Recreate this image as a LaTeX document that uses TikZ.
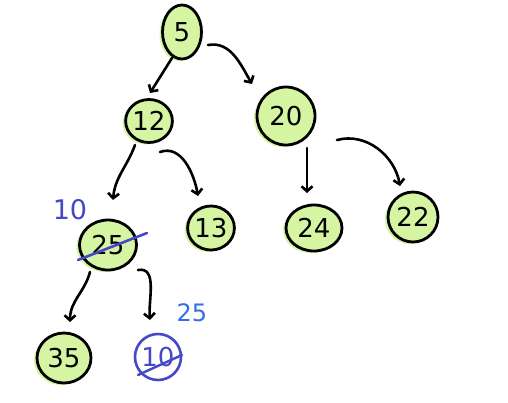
\documentclass[tikz,border=0pt]{standalone}
\usepackage{fontspec}
\setmainfont{DejaVu Sans}
\usetikzlibrary{arrows.meta,shapes.geometric,calc}
\definecolor{leaf}{HTML}{D6F5A3}
\definecolor{pen}{HTML}{4548C8}
\definecolor{pen2}{HTML}{2F6FE8}
\begin{document}
\begin{tikzpicture}[x=1pt,y=-1pt,
  nd/.style={ellipse,draw=black,line width=2.8pt,fill=leaf,inner sep=0pt,
    preaction={fill=leaf,transform canvas={shift={(-3pt,-2pt)}}},
    font=\fontsize{26}{28}\selectfont},
  bnd/.style={circle,draw=pen,line width=2.6pt,minimum size=46pt,inner sep=0pt,font=\fontsize{26}{28}\selectfont,text=pen},
  arr/.style={line width=2.6pt,line cap=round,-{Straight Barb[length=5pt,width=11pt,line width=2.6pt]}},
  note/.style={font=\fontsize{24}{26}\selectfont}]
\useasboundingbox[fill=white] (0,0) rectangle (508,402);
\node[nd,minimum width=39pt,minimum height=54pt] (n5) at (182,32) {5};
\node[nd,minimum width=44pt,minimum height=43pt] (n12) at (149,121) {12};
\node[nd,minimum width=58pt,minimum height=58pt] (n20) at (286,116) {20};
\node[nd,minimum width=57pt,minimum height=50pt] (n25) at (108,245) {25};
\node[nd,minimum width=45pt,minimum height=44pt] (n13) at (211,228) {13};
\node[nd,minimum width=56pt,minimum height=46pt] (n24) at (314,228) {24};
\node[nd,minimum width=50pt,minimum height=50pt] (n22) at (413,217) {22};
\node[nd,minimum width=54pt,minimum height=50pt] (n35) at (64,358) {35};
\node[bnd] (n10) at (158,357) {10};
% arrows
\draw[arr] ($(n5.center)+(-10,26)$) -- ($(n12.center)+(1,-28)$);
\draw[arr] ($(n5.center)+(26,13)$) to[out=10,in=120] ($(n20.center)+(-34,-32)$);
\draw[arr] ($(n12.center)+(-14,24)$) to[out=-110,in=85] ($(n25.center)+(5,-45)$);
\draw[arr] ($(n12.center)+(11,31)$) to[out=20,in=100] ($(n13.center)+(-13,-32)$);
\draw[arr] ($(n20.center)+(21,32)$) -- ($(n24.center)+(-7,-35)$);
\draw[arr] ($(n20.center)+(51,24)$) to[out=15,in=100] ($(n22.center)+(-13,-31)$);
\draw[arr] ($(n25.center)+(-18,27)$) to[out=-105,in=90] ($(n35.center)+(6,-36)$);
\draw[arr] ($(n25.center)+(30,25)$) to[out=10,in=95] ($(n10.center)+(-8,-37)$);
% blue annotations
\draw[pen,line width=2.6pt,line cap=round] ($(n25.center)+(-30,15)$) coordinate (s1) -- ($(n25.center)+(39,-12)$) coordinate (s2);
\node[note,text=pen,font=\fontsize{27}{29}\selectfont,inner sep=0pt] (t10) at (70,210) {10};
\node[note,text=pen2] (t25) at (192,313) {25};
\draw[pen,line width=2.4pt,line cap=round] ($(n10.center)+(-20,18)$) coordinate (s3) -- ($(n10.center)+(24,-2)$) coordinate (s4);
\end{tikzpicture}
\end{document}
